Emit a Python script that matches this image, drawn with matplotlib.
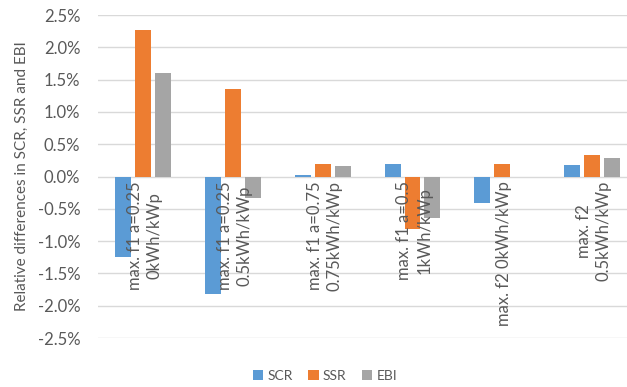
import matplotlib
matplotlib.use("Agg")
import matplotlib.pyplot as plt
import numpy as np
from matplotlib.ticker import FuncFormatter, MultipleLocator

plt.rcParams['font.family'] = ['Lato', 'DejaVu Sans']

categories = [
    "max. f1 a=0.25\n0kWh/kWp",
    "max. f1 a=0.25\n0.5kWh/kWp",
    "max. f1 a=0.75\n0.75kWh/kWp",
    "max. f1 a=0.5\n1kWh/kWp",
    "max. f2 0kWh/kWp",
    "max. f2\n0.5kWh/kWp",
]
series_names = ["SCR", "SSR", "EBI"]
scr = [-1.25, -1.82, 0.02, 0.20, -0.41, 0.18]
ssr = [2.27, 1.36, 0.20, -0.82, 0.20, 0.34]
ebi = [1.60, -0.34, 0.17, -0.65, 0.00, 0.28]
colors = ["#5B9BD5", "#ED7D31", "#A5A5A5"]

text_color = "#595959"
grid_color = "#D9D9D9"

fig = plt.figure(figsize=(6.27, 3.87), dpi=100)
ax = fig.add_axes([0.1568, 0.1266, 0.859, 0.8346])

x = np.arange(len(categories))
bar_w = 0.178
step = 0.222
for k, (vals, name, c) in enumerate(zip([scr, ssr, ebi], series_names, colors)):
    ax.bar(x + (k - 1) * step, vals, width=bar_w, color=c, label=name, zorder=3)

ax.set_xlim(-0.5, len(categories) - 0.5)
ax.set_ylim(-2.5, 2.5)
ax.yaxis.set_major_locator(MultipleLocator(0.5))
ax.yaxis.set_major_formatter(FuncFormatter(lambda v, p: f"{v:.1f}%".replace("-0.0", "0.0")))
ax.grid(axis="y", color=grid_color, linewidth=1.0, zorder=0)
for s in ax.spines.values():
    s.set_visible(False)
ax.tick_params(axis="y", length=0, pad=13, labelsize=12, labelcolor=text_color)
ax.tick_params(axis="x", length=0, labelbottom=False)

# category labels sit just below the zero line
for xi, lab in zip(x, categories):
    ax.text(xi + 0.02, -0.07, lab, rotation=90, ha="center", va="top",
            multialignment="center", fontsize=12, color=text_color,
            linespacing=1.3, zorder=4)

ax.set_ylabel("Relative differences in SCR, SSR and EBI", fontsize=11,
              color=text_color)
ax.yaxis.set_label_coords(-0.128, 0.5)

leg = fig.legend(loc="center", bbox_to_anchor=(325 / 627, 1 - 375.5 / 387),
                 ncol=3, frameon=False, fontsize=10, handlelength=0.75,
                 handleheight=0.75, handletextpad=0.3, columnspacing=1.1)
for t in leg.get_texts():
    t.set_color(text_color)

fig.savefig("out.png", dpi=100)
